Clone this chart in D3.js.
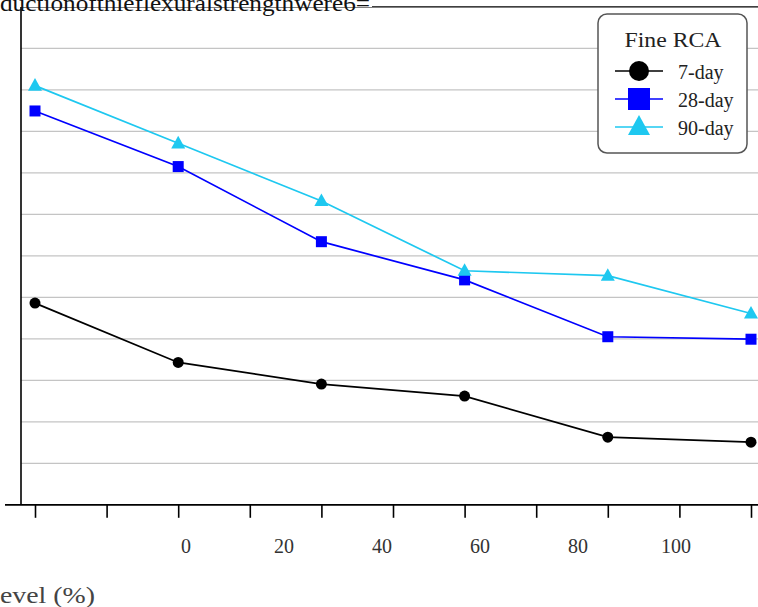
<!DOCTYPE html>
<html><head><meta charset="utf-8">
<script src="https://cdn.jsdelivr.net/npm/d3@7"></script>
<style>html,body{margin:0;padding:0;background:#fff;}svg{display:block;} text{font-family:'Liberation Serif','Times New Roman',serif;}</style>
</head><body>
<svg id="chart" width="758" height="607"></svg>
<script>
const categories = [0, 20, 40, 60, 80, 100];
const tickLabels = ["0", "20", "40", "60", "80", "100"];
const xTickValues = [0, 10, 20, 30, 40, 50, 60, 70, 80, 90, 100];
const day7 = [4.86, 3.43, 2.91, 2.62, 1.63, 1.51];
const day28 = [9.49, 8.15, 6.34, 5.42, 4.05, 3.99];
const day90 = [10.10, 8.71, 7.32, 5.64, 5.52, 4.61];
const seriesNames = ["7-day", "28-day", "90-day"];
const legendTitle = "Fine RCA";
const topText = "ductionofthieflexuralstrengthwere6=";
const xTitle = "evel (%)";

const series = [
  {name: seriesNames[0], values: day7, color: "#000000", shape: "circle"},
  {name: seriesNames[1], values: day28, color: "#0000ff", shape: "square"},
  {name: seriesNames[2], values: day90, color: "#1ec8f0", shape: "triangle"}
];

const svg = d3.select("#chart");
const x = d3.scaleLinear().domain([0, 100]).range([35, 751]);
const xLab = d3.scaleLinear().domain([0, 100]).range([186, 676]);
const y = d3.scaleLinear().domain([0, 12]).range([504.8, 6.8]);
const axisX = 21;

// gridlines
svg.append("g").selectAll("line").data(d3.range(1, 12)).join("line")
  .attr("x1", axisX).attr("x2", 758)
  .attr("y1", d => y(d)).attr("y2", d => y(d))
  .attr("stroke", "#c4c4c4").attr("stroke-width", 1.3);

// top border
svg.append("line").attr("x1", axisX).attr("x2", 758).attr("y1", y(12)).attr("y2", y(12))
  .attr("stroke", "#000").attr("stroke-width", 1.3);

// y axis line
svg.append("line").attr("x1", axisX).attr("x2", axisX).attr("y1", y(12)).attr("y2", y(0))
  .attr("stroke", "#000").attr("stroke-width", 1.6);

// x axis
const xAxis = d3.axisBottom(x).tickValues(xTickValues).tickSize(13).tickFormat("");
const gx = svg.append("g").attr("transform", `translate(0,${y(0)})`).call(xAxis);
gx.select(".domain").remove();
gx.selectAll(".tick line").attr("stroke", "#000").attr("stroke-width", 1.6);
svg.append("line").attr("x1", 5).attr("x2", 758).attr("y1", y(0)).attr("y2", y(0))
  .attr("stroke", "#000").attr("stroke-width", 1.8);

// misaligned tick labels
svg.append("g").selectAll("text").data(categories).join("text")
  .attr("x", d => xLab(d)).attr("y", 553)
  .attr("text-anchor", "middle")
  .attr("font-size", 20).attr("fill", "#333")
  .text((d, i) => tickLabels[i]);

svg.append("text").attr("x", 0).attr("y", 603)
  .attr("font-size", 23).attr("fill", "#444")
  .attr("textLength", 95).attr("lengthAdjust", "spacingAndGlyphs")
  .text(xTitle);

// top text with white backing
const topG = svg.append("g");
const backing = topG.append("rect").attr("x", 0).attr("y", 0).attr("height", 7).attr("fill", "#fff");
const tt = topG.append("text").attr("x", 0).attr("y", 11)
  .attr("font-size", 24).attr("fill", "#111")
  .attr("textLength", 370).attr("lengthAdjust", "spacingAndGlyphs")
  .text(topText);
backing.attr("width", tt.node().getBBox().width + 2);

const line = d3.line().x((d, i) => x(categories[i])).y(d => y(d));

function drawMarker(g, shape, color, cx, cy, size) {
  if (shape === "circle") {
    g.append("circle").attr("cx", cx).attr("cy", cy).attr("r", size / 2).attr("fill", color);
  } else if (shape === "square") {
    g.append("rect").attr("x", cx - size / 2).attr("y", cy - size / 2).attr("width", size).attr("height", size).attr("fill", color);
  } else {
    const h = size * 0.9;
    g.append("path").attr("d", `M${cx},${cy - h * 0.6}L${cx + size / 2},${cy + h * 0.4}L${cx - size / 2},${cy + h * 0.4}Z`).attr("fill", color);
  }
}

series.forEach(s => {
  const g = svg.append("g");
  g.append("path").datum(s.values).attr("d", line).attr("fill", "none")
    .attr("stroke", s.color).attr("stroke-width", 1.7);
  s.values.forEach((v, i) => {
    drawMarker(g, s.shape, s.color, x(categories[i]), y(v), s.shape === "triangle" ? 14 : 11);
  });
});

// legend
const lg = svg.append("g");
lg.append("rect").attr("x", 598).attr("y", 14).attr("width", 149).attr("height", 139).attr("rx", 9)
  .attr("fill", "#fff").attr("stroke", "#555").attr("stroke-width", 1.5);
lg.append("text").attr("x", 673).attr("y", 47).attr("text-anchor", "middle")
  .attr("font-size", 22).attr("fill", "#222")
  .attr("textLength", 97).attr("lengthAdjust", "spacingAndGlyphs")
  .text(legendTitle);
const rowsY = [71, 99, 127];
series.forEach((s, i) => {
  const cy = rowsY[i];
  lg.append("line").attr("x1", 615).attr("x2", 663).attr("y1", cy).attr("y2", cy)
    .attr("stroke", s.color).attr("stroke-width", 1.7);
  drawMarker(lg, s.shape, s.color, 639, cy, s.shape === "circle" ? 20 : 22);
  lg.append("text").attr("x", 678).attr("y", cy + 8)
    .attr("font-size", 20).attr("fill", "#222")
    .text(s.name);
});
</script>
</body></html>
